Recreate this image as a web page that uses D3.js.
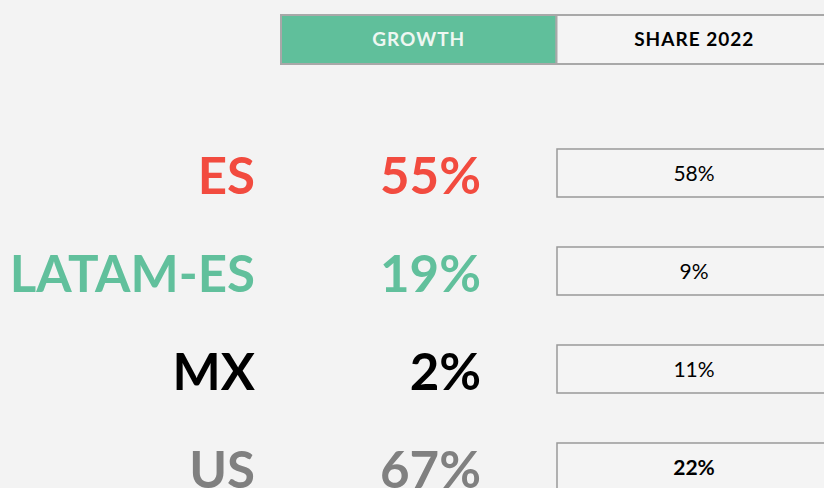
<!DOCTYPE html>
<html>
<head>
<meta charset="utf-8">
<script src="https://cdn.jsdelivr.net/npm/d3@7/dist/d3.min.js"></script>
<style>
  html, body { margin: 0; padding: 0; background: #f3f3f3; overflow: hidden; }
  svg { display: block; }
</style>
</head>
<body>
<svg id="chart" width="824" height="488"></svg>
<script>
// ---- data ----
const markets = ["ES", "LATAM-ES", "MX", "US"];
const growth = [55, 19, 2, 67];
const share2022 = [58, 9, 11, 22];
const marketColors = ["#f24b3f", "#61c09c", "#000000", "#808080"];
const headers = ["GROWTH", "SHARE 2022"];
const highlighted = ["US"];

// ---- layout ----
const W = 824, H = 488;
const svg = d3.select("#chart");
svg.append("rect").attr("width", W).attr("height", H).attr("fill", "#f3f3f3");

const font = "Lato, 'Open Sans', sans-serif";

// header tabs
const hx = d3.scaleBand().domain(headers).range([281, 832]).paddingInner(0);
const headerG = svg.append("g");
headerG.append("rect")
  .attr("x", 281).attr("y", 15).attr("width", 560).attr("height", 49)
  .attr("fill", "#f4f4f4").attr("stroke", "#a8a8a8").attr("stroke-width", 2);
headerG.selectAll("rect.tab").data(headers).join("rect")
  .attr("class", "tab")
  .attr("x", d => hx(d)).attr("y", 15)
  .attr("width", hx.bandwidth()).attr("height", 49)
  .attr("fill", (d, i) => i === 0 ? "#60bf9b" : "#f4f4f4")
  .attr("stroke", "#a8a8a8").attr("stroke-width", 2);
headerG.selectAll("text").data(headers).join("text")
  .attr("x", d => hx(d) + hx.bandwidth() / 2)
  .attr("y", 46)
  .attr("text-anchor", "middle")
  .attr("font-family", font).attr("font-weight", 700).attr("font-size", 19)
  .attr("letter-spacing", 1)
  .attr("fill", (d, i) => i === 0 ? "#eef7f2" : "#000")
  .text(d => d);

// rows
const y = d3.scaleBand().domain(markets).range([149, 149 + 98 * markets.length]);
const rows = markets.map((m, i) => ({ m, g: growth[i], s: share2022[i], c: marketColors[i] }));

const rowG = svg.selectAll("g.row").data(rows).join("g").attr("class", "row");

rowG.append("text")
  .attr("x", 255).attr("y", d => y(d.m) + 45)
  .attr("text-anchor", "end")
  .attr("font-family", font).attr("font-weight", 700).attr("font-size", 51)
  .attr("fill", d => d.c)
  .text(d => d.m);

rowG.append("text")
  .attr("x", 481).attr("y", d => y(d.m) + 45)
  .attr("text-anchor", "end")
  .attr("font-family", font).attr("font-weight", 700).attr("font-size", 51)
  .attr("fill", d => d.c)
  .text(d => d.g + "%");

rowG.append("rect")
  .attr("x", 557).attr("y", d => y(d.m))
  .attr("width", 274).attr("height", 48)
  .attr("fill", "#f4f4f4").attr("stroke", "#999").attr("stroke-width", 1.5);

rowG.append("text")
  .attr("x", 694).attr("y", d => y(d.m) + 32)
  .attr("text-anchor", "middle")
  .attr("font-family", font)
  .attr("font-weight", d => highlighted.includes(d.m) ? 700 : 400)
  .attr("font-size", 21)
  .attr("fill", "#000")
  .text(d => d.s + "%");
</script>
</body>
</html>
